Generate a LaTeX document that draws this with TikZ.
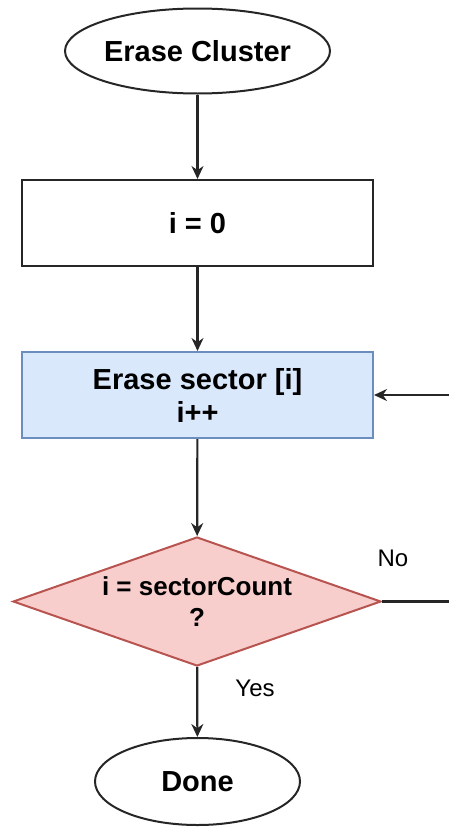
\documentclass[tikz,border=0pt]{standalone}
\usepackage{fontspec}
\setmainfont{Liberation Sans}
\usetikzlibrary{shapes.geometric,arrows.meta}
\definecolor{bfill}{HTML}{DAE8FC}
\definecolor{bdraw}{HTML}{6C8EBF}
\definecolor{rfill}{HTML}{F8CECC}
\definecolor{rdraw}{HTML}{B85450}
\begin{document}
\begin{tikzpicture}[x=1pt,y=-1pt,
  base/.style={line width=2pt, inner sep=0pt, align=center,
    font=\fontsize{29}{33}\selectfont\bfseries},
  term/.style={base, ellipse, draw=black!85},
  box/.style={base, rectangle, draw=black!85, minimum width=351pt, minimum height=86pt},
  proc/.style={box, fill=bfill, draw=bdraw},
  dec/.style={base, diamond, fill=rfill, draw=rdraw, minimum width=368pt, minimum height=129pt},
  conn/.style={line width=2.2pt, draw=black!85, -{Stealth[length=13pt,width=12pt]}},
  plain/.style={line width=2.2pt, draw=black!85},
  lbl/.style={font=\fontsize{24}{28}\selectfont, inner sep=0pt}
]
\useasboundingbox (0,0) rectangle (449,827);
\node[term, minimum width=265pt, minimum height=85pt] (start) at (197.5,51) {Erase Cluster};
\node[box] (init) at (197.5,223) {i = 0};
\node[proc] (erase) at (197.5,395) {Erase sector [i]\\i++};
\node[dec] (check) at (197,601.5) {};
\node[base, font=\fontsize{26}{31}\selectfont\bfseries] (checktxt) at (197,602) {i = sectorCount\\?};
\node[term, minimum width=205pt, minimum height=87pt] (done) at (197.5,781.5) {Done};
\coordinate (inR) at (449,395);
\coordinate (outR) at (449,601.5);
\node[lbl] (no) at (393,558) {No};
\node[lbl] (yes) at (255,688) {Yes};
\draw[conn] (start) -- (init);
\draw[conn] (init) -- (erase);
\draw[conn] (erase) -- (check);
\draw[conn] (check) -- (done);
\draw[plain] (check.east) -- (outR);
\draw[conn] (inR) -- (erase.east);
\end{tikzpicture}
\end{document}
